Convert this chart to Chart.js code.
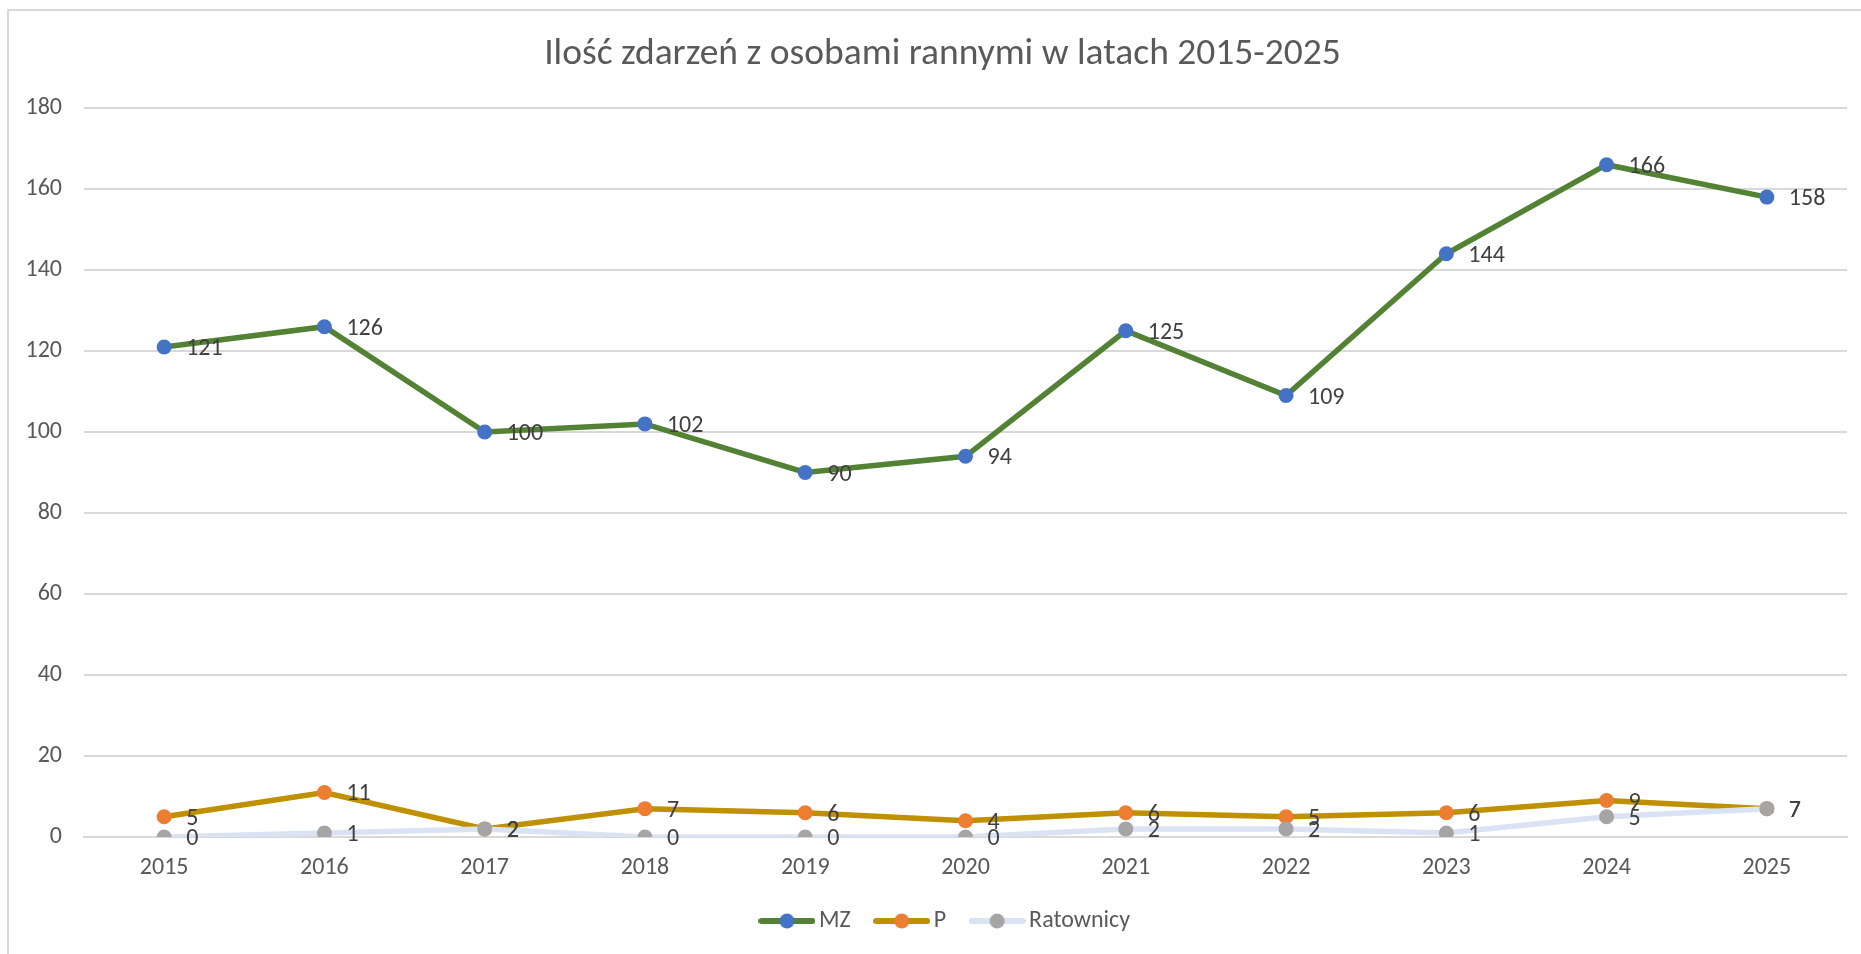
<!DOCTYPE html>
<html>
<head>
<meta charset="utf-8">
<script src="https://cdn.jsdelivr.net/npm/chart.js@4.4.1/dist/chart.umd.min.js"></script>
<style>
  html, body { margin: 0; padding: 0; background: #fff; }
  #wrap { position: relative; width: 1861px; height: 954px; }
  #frame { position: absolute; left: 7px; top: 9px; right: 0; bottom: 0;
           border-left: 2px solid #d9d9d9; border-top: 2px solid #d9d9d9; pointer-events: none; }
  canvas { position: absolute; left: 0; top: 0; }
</style>
</head>
<body>
<div id="wrap">
  <canvas id="chart" width="1861" height="954"></canvas>
  <div id="frame"></div>
</div>
<script>
// ---------- Data ----------
const years = ['2015', '2016', '2017', '2018', '2019', '2020', '2021', '2022', '2023', '2024', '2025'];
const mz = [121, 126, 100, 102, 90, 94, 125, 109, 144, 166, 158];
const p = [5, 11, 2, 7, 6, 4, 6, 5, 6, 9, 7];
const ratownicy = [0, 1, 2, 0, 0, 0, 2, 2, 1, 5, 7];

const FONT = 'Carlito, Lato, "Open Sans", sans-serif';

// ---------- Legend swatch (line + marker) ----------
function swatch(lineColor, dotColor) {
  const c = document.createElement('canvas');
  c.width = 57;
  c.height = 18;
  const g = c.getContext('2d');
  g.strokeStyle = lineColor;
  g.lineWidth = 6;
  g.lineCap = 'round';
  g.beginPath();
  g.moveTo(3, 9);
  g.lineTo(54, 9);
  g.stroke();
  g.fillStyle = dotColor;
  g.beginPath();
  g.arc(28.5, 9, 7.5, 0, Math.PI * 2);
  g.fill();
  return c;
}

// ---------- Data labels ----------
const valueLabels = {
  id: 'valueLabels',
  afterDatasetsDraw(chart) {
    const ctx = chart.ctx;
    ctx.save();
    ctx.font = '24px ' + FONT;
    ctx.fillStyle = '#404040';
    ctx.textAlign = 'left';
    ctx.textBaseline = 'middle';
    chart.data.datasets.forEach((ds, i) => {
      const meta = chart.getDatasetMeta(i);
      meta.data.forEach((pt, j) => {
        ctx.fillText(String(ds.data[j]), pt.x + 22, pt.y + 2);
      });
    });
    ctx.restore();
  }
};

// title and legend sit a bit right of centre in the original
const centreShift = {
  id: 'centreShift',
  afterLayout(chart) {
    if (chart.legend) {
      chart.legend.left += 25;
      chart.legend.right += 25;
    }
    if (chart.titleBlock) {
      chart.titleBlock.left += 19;
      chart.titleBlock.right += 19;
    }
  }
};

const series = [
  { label: 'MZ', data: mz, line: '#548235', dot: '#4472c4', order: 2 },
  { label: 'P', data: p, line: '#bf9000', dot: '#ed7d31', order: 1 },
  { label: 'Ratownicy', data: ratownicy, line: '#dae3f3', dot: '#a5a5a5', order: 0 }
];

new Chart(document.getElementById('chart'), {
  type: 'line',
  data: {
    labels: years,
    datasets: series.map(s => ({
      label: s.label,
      data: s.data,
      order: s.order,
      borderColor: s.line,
      backgroundColor: s.dot,
      borderWidth: 5.5,
      tension: 0,
      pointRadius: 7.5,
      pointHoverRadius: 7.5,
      pointBackgroundColor: s.dot,
      pointBorderColor: s.dot,
      pointBorderWidth: 0
    }))
  },
  options: {
    responsive: false,
    animation: false,
    layout: { padding: { left: 0, right: 14, top: 0, bottom: 11 } },
    plugins: {
      title: {
        display: true,
        text: 'Ilość zdarzeń z osobami rannymi w latach 2015-2025',
        color: '#595959',
        font: { family: FONT, size: 37.5, weight: 'normal' },
        padding: { top: 32, bottom: 31 }
      },
      legend: {
        position: 'bottom',
        labels: {
          color: '#595959',
          font: { family: FONT, size: 24 },
          usePointStyle: true,
          pointStyleWidth: 40,
          padding: 31,
          generateLabels: () => series.map((s, i) => ({
            text: s.label,
            datasetIndex: i,
            pointStyle: swatch(s.line, s.dot),
            fillStyle: s.dot,
            strokeStyle: s.line,
            lineWidth: 0,
            fontColor: '#595959',
            hidden: false
          }))
        }
      },
      tooltip: { enabled: false }
    },
    scales: {
      x: {
        offset: true,
        grid: { display: false, drawTicks: false },
        border: { display: true, color: '#d9d9d9', width: 2 },
        ticks: { color: '#595959', font: { family: FONT, size: 24 }, padding: 17, maxRotation: 0 },
        afterFit: (scale) => { scale.height = 41; }
      },
      y: {
        min: 0,
        max: 180,
        ticks: { stepSize: 20, color: '#595959', font: { family: FONT, size: 24 }, padding: 22 },
        grid: { color: '#d9d9d9', lineWidth: 2, drawTicks: false },
        border: { display: false },
        afterFit: (scale) => { scale.width = 84; }
      }
    }
  },
  plugins: [valueLabels, centreShift]
});
</script>
</body>
</html>
